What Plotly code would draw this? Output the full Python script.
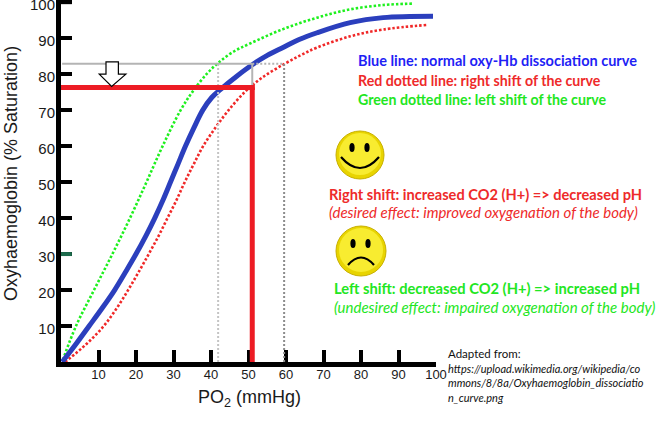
import plotly.graph_objects as go

# PO2 (mmHg) and saturation (%)
normal_po2 = [0.3, 4.0, 7.5, 11.0, 14.3, 17.2, 20.0, 22.6, 25.0, 27.2, 29.2, 31.2, 33.2, 35.4, 37.8,
              40.2, 42.8, 46.7, 51.0, 55.0, 59.2, 63.5, 68.3, 77.1, 85.9, 99.2]
normal_sat = [0, 5, 10, 15, 20, 25, 30, 35, 40, 45, 50, 55, 60, 65, 70,
              73.5, 76.0, 79.3, 82.6, 85.2, 87.4, 89.6, 91.5, 94.3, 95.7, 96.1]

right_po2 = [1.1, 6.8, 11.4, 14.9, 17.9, 20.7, 23.4, 26.0, 28.4, 30.8, 33.0, 35.4, 37.9, 41.1, 44.7,
             49.0, 53.6, 59.5, 64.0, 68.3, 77.1, 85.9, 97.9]
right_sat = [0, 5, 10, 15, 20, 25, 30, 35, 40, 45, 50, 55, 60, 65, 70,
             75, 79, 82.8, 85.3, 87.4, 90.5, 92.4, 93.7]

left_po2 = [0.5, 4.0, 8.8, 13.7, 18.4, 22.8, 27.1, 31.9, 35.0, 38.8, 41.8, 45.6, 50.4, 59.2,
            68.3, 77.1, 85.9, 93.9]
left_sat = [0.6, 10, 20, 30, 40, 50, 60, 70, 75, 80, 83, 86, 88.5, 92.5,
            95.7, 98.0, 99.2, 99.6]

x_ticks = [10, 20, 30, 40, 50, 60, 70, 80, 90, 100]
y_ticks = [10, 20, 30, 40, 50, 60, 70, 80, 90, 100]

# guide lines
sat_normal = 82.9
sat_shifted = 76.3
po2_left = 41.9
po2_normal = 51.0
po2_right = 59.5

W, H = 669, 427
L, R, T, B = 61, 233, 0, 65


def px(x):
    return (x - L) / (W - L - R)


def py(y):
    return (H - B - y) / (H - T - B)


fig = go.Figure()

fig.add_trace(go.Scatter(x=left_po2, y=left_sat, mode="lines", line_shape="spline",
                         line=dict(color="#1ef01e", width=2.6, dash="2.5px,2px")))
fig.add_trace(go.Scatter(x=right_po2, y=right_sat, mode="lines", line_shape="spline",
                         line=dict(color="#f02828", width=2.6, dash="2.5px,2px")))
fig.add_trace(go.Scatter(x=normal_po2, y=normal_sat, mode="lines", line_shape="spline",
                         line=dict(color="#2b3fbd", width=5)))

gray = "#b4b4b4"
shapes = [
    dict(type="line", x0=po2_left, x1=po2_left, y0=0, y1=sat_normal,
         line=dict(color="#c4c4c4", width=2, dash="2px,2px")),
    dict(type="line", x0=po2_right, x1=po2_right, y0=0, y1=sat_normal,
         line=dict(color="#8c8c8c", width=2, dash="2px,2px")),
    dict(type="line", x0=po2_normal, x1=po2_right, y0=sat_normal, y1=sat_normal,
         line=dict(color=gray, width=2, dash="2px,2px")),
    dict(type="line", x0=0.3, x1=po2_normal, y0=sat_normal, y1=sat_normal,
         line=dict(color=gray, width=2)),
    dict(type="line", x0=po2_normal, x1=po2_normal, y0=sat_shifted, y1=sat_normal,
         line=dict(color=gray, width=2)),
    dict(type="line", x0=-1, x1=po2_normal + 0.7, y0=sat_shifted, y1=sat_shifted,
         line=dict(color="#ed1c24", width=5)),
    dict(type="line", x0=po2_normal, x1=po2_normal, y0=0, y1=sat_shifted,
         line=dict(color="#ed1c24", width=5)),
    # dark green tick at 30, top tick at 100 (plotly drops ticks at the range edge)
    dict(type="line", x0=0, x1=2.9, y0=30, y1=30, line=dict(color="#1c6b4c", width=4)),
    dict(type="line", x0=0, x1=2.9, y0=100, y1=100, line=dict(color="black", width=4)),
    # hollow down arrow
    dict(type="path", path="M 12.0,83.4 L 15.3,83.4 L 15.3,80.0 L 17.3,80.0 L 13.5,76.6 "
                           "L 10.2,80.0 L 12.0,80.0 Z",
         fillcolor="white", line=dict(color="black", width=1.2)),
]


def smiley(cx, cy, r, happy):
    out = [
        dict(type="circle", xref="paper", yref="paper",
             x0=px(cx - r), x1=px(cx + r), y0=py(cy + r), y1=py(cy - r),
             fillcolor="#e8d400", line=dict(color="#c8b000", width=1)),
        dict(type="circle", xref="paper", yref="paper",
             x0=px(cx - r + 3), x1=px(cx + r - 3), y0=py(cy + r - 4), y1=py(cy - r + 2),
             fillcolor="#f8ec30", line=dict(width=0)),
    ]
    for ex in (cx - 8, cx + 7):
        out.append(dict(type="circle", xref="paper", yref="paper",
                        x0=px(ex - 2.6), x1=px(ex + 2.6), y0=py(cy - 3), y1=py(cy - 12),
                        fillcolor="black", line=dict(width=0)))
    if happy:
        path = f"M {px(cx - 19)},{py(cy + 2)} Q {px(cx)},{py(cy + 24)} {px(cx + 19)},{py(cy + 2)}"
    else:
        path = f"M {px(cx - 13)},{py(cy + 14)} Q {px(cx)},{py(cy - 1)} {px(cx + 13)},{py(cy + 14)}"
    out.append(dict(type="path", xref="paper", yref="paper", path=path,
                    line=dict(color="black", width=2.2)))
    return out


shapes += smiley(360, 155, 24, True)
shapes += smiley(361, 251, 25, False)

text_font = "Lato, Open Sans, sans-serif"
notes = [
    ("<b>Blue line: normal oxy-Hb dissociation curve</b>", 356, 61, "#1f1ff5", 14.5),
    ("<b>Red dotted line: right shift of the curve</b>", 356, 80, "#ee2a2a", 14.2),
    ("<b>Green dotted line: left shift of the curve</b>", 356, 99, "#22e622", 14.2),
    ("<b>Right shift: increased CO2 (H+) =&gt; decreased pH</b>", 327, 194, "#ee2a2a", 14.6),
    ("<i>(desired effect: improved oxygenation of the body)</i>", 327, 212, "#ee2a2a", 15),
    ("<b>Left shift: decreased CO2 (H+) =&gt; increased pH</b>", 332, 288, "#22e622", 14.7),
    ("<i>(undesired effect: impaired oxygenation of the body)</i>", 332, 307, "#22e622", 15),
    ("Adapted from:", 446, 353, "#111111", 11.5),
]
annotations = []
for txt, x, y, col, size in notes:
    annotations.append(dict(text=txt, xref="paper", yref="paper", x=px(x), y=py(y),
                            xanchor="left", yanchor="middle", showarrow=False,
                            font=dict(family=text_font, size=size, color=col)))
annotations.append(dict(
    text="<i>https://upload.wikimedia.org/wikipedia/co<br>mmons/8/8a/Oxyhaemoglobin_dissociatio"
         "<br>n_curve.png</i>",
    xref="paper", yref="paper", x=px(446), y=py(360), xanchor="left", yanchor="top",
    align="left", showarrow=False, font=dict(family=text_font, size=11, color="#111111")))

axis_font = "Liberation Sans, Arial, sans-serif"
annotations.append(dict(text="Oxyhaemoglobin (% Saturation)", textangle=-90,
                        xref="paper", yref="paper", x=px(11), y=py(174),
                        xanchor="center", yanchor="middle",
                        showarrow=False, font=dict(family=axis_font, size=18, color="#1a1a1a")))
annotations.append(dict(text="PO<sub>2</sub> (mmHg)", xref="paper", yref="paper",
                        x=px(249), y=py(398), xanchor="center", yanchor="middle",
                        showarrow=False, font=dict(family=axis_font, size=18, color="#1a1a1a")))

fig.update_layout(
    width=W, height=H, margin=dict(l=L, r=R, t=T, b=B),
    paper_bgcolor="white", plot_bgcolor="white", showlegend=False,
    shapes=shapes, annotations=annotations,
)
fig.update_xaxes(range=[0, 100], tickvals=x_ticks, showgrid=False, zeroline=False,
                 showline=True, linecolor="black", linewidth=5, automargin=False,
                 ticks="inside", ticklen=12, tickwidth=4, tickcolor="black",
                 ticklabelstandoff=-4, ticklabeloverflow="allow",
                 tickfont=dict(family=axis_font, size=13, color="#1a1a1a"))
fig.update_yaxes(range=[0, 100.6], tickvals=y_ticks, showgrid=False, zeroline=False,
                 showline=True, linecolor="black", linewidth=5, automargin=False,
                 ticks="inside", ticklen=11, tickwidth=4, tickcolor="black",
                 ticklabelstandoff=-2, ticklabeloverflow="allow", ticklabelshift=3,
                 tickfont=dict(family=axis_font, size=15, color="#1a1a1a"))

fig.write_html("out.html", config={"displayModeBar": False},
               post_script="document.body.style.margin='0';")
